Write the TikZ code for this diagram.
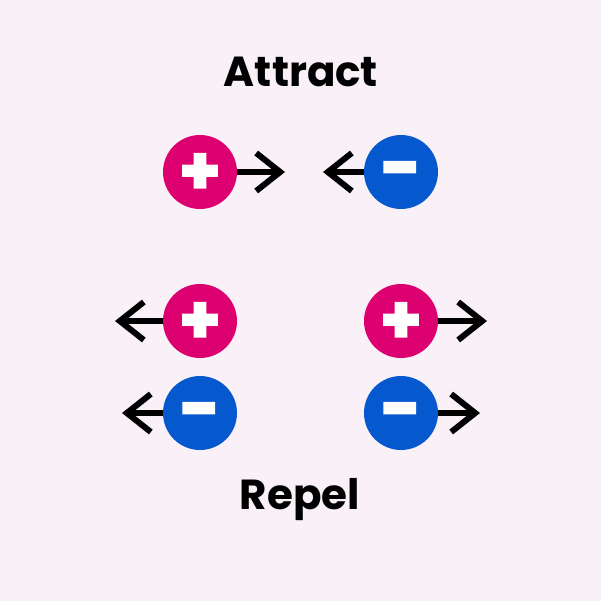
\documentclass[tikz,border=0pt]{standalone}
\usepackage{fontspec}
\setmainfont{Poppins}
\newfontfamily\plusfont[FakeBold=3]{Poppins Bold}
\newfontfamily\minusfont[FakeBold=4]{Poppins Bold}
\usetikzlibrary{arrows.meta}
\definecolor{bgc}{RGB}{250,240,248}
\definecolor{posc}{RGB}{221,0,112}
\definecolor{negc}{RGB}{6,88,206}
\newcommand{\plussign}{\raisebox{-0.33em}[0pt][0pt]{+}}
\newcommand{\minussign}{\raisebox{-0.28em}[0pt][0pt]{-}}
\tikzset{
  charge/.style={circle,minimum size=74pt,inner sep=0pt,text=white},
  poscharge/.style={charge,fill=posc,font=\plusfont\fontsize{66}{66}\selectfont},
  negcharge/.style={charge,fill=negc,font=\minusfont\fontsize{68}{68}\selectfont},
  force/.style={line width=6pt,-{Straight Barb[length=24pt,width=38pt,line width=6pt]}},
  titletext/.style={font=\bfseries\fontsize{42}{42}\selectfont}
}
\begin{document}
\begin{tikzpicture}[x=1pt,y=-1pt]
\path[fill=bgc] (0,0) rectangle (601,601);
\node[titletext] (t1) at (301,72) {Attract};
\node[titletext] (t2) at (300,500) {Repel};
\node[poscharge] (a1) at (200,172) {\plussign};
\node[negcharge] (a2) at (401,172) {\minussign};
\coordinate (a1t) at (285,172);
\coordinate (a2t) at (323,172);
\draw[force] (a1.east) -- (a1t);
\draw[force] (a2.west) -- (a2t);
\node[poscharge] (r1) at (200,321) {\plussign};
\node[poscharge] (r2) at (401,321) {\plussign};
\node[negcharge] (r3) at (200,413) {\minussign};
\node[negcharge] (r4) at (401,413) {\minussign};
\coordinate (r1t) at (115,321);
\coordinate (r2t) at (487,321);
\coordinate (r3t) at (122,413);
\coordinate (r4t) at (480,413);
\draw[force] (r1.west) -- (r1t);
\draw[force] (r2.east) -- (r2t);
\draw[force] (r3.west) -- (r3t);
\draw[force] (r4.east) -- (r4t);
\end{tikzpicture}
\end{document}
